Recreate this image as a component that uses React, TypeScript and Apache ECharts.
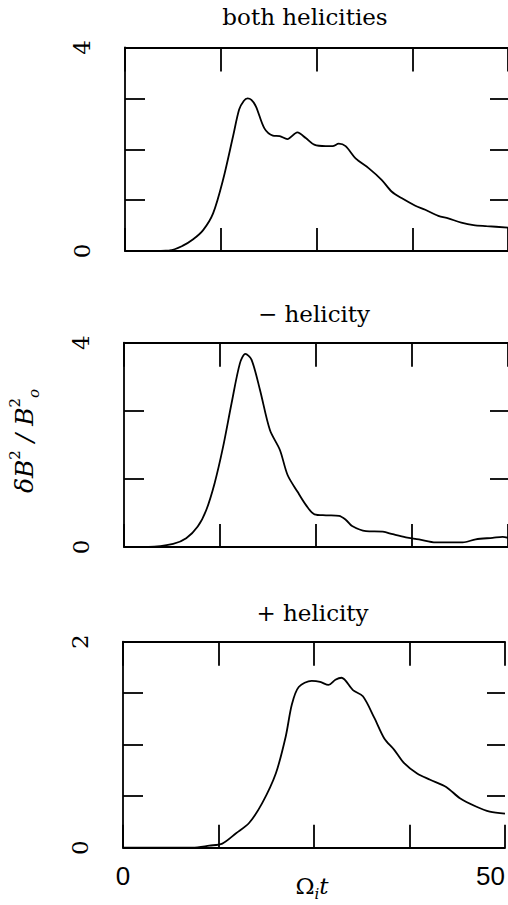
import React, { useEffect, useRef } from "react";
import * as echarts from "echarts";

// ---- data ----
const titles = ["both helicities", "\u2212 helicity", "+ helicity"];

const t1 = [0, 3, 5.8, 7.5, 8.9, 10.2, 11.5, 12.8, 14.1, 14.9, 15.5, 16.0, 16.5, 17.1, 18.2, 19.3, 20.2, 21.2, 22.5, 23.6, 24.7, 26.2, 27.1, 27.9, 28.8, 30.1, 31.8, 33.5, 34.8, 36.1, 37.9, 39.2, 40.9, 42.2, 43.9, 45.5, 47.2, 50];
const v1 = [0, 0, 0.01, 0.1, 0.23, 0.41, 0.74, 1.4, 2.25, 2.78, 2.95, 3.0, 2.97, 2.84, 2.41, 2.27, 2.26, 2.2, 2.33, 2.22, 2.09, 2.06, 2.06, 2.11, 2.06, 1.82, 1.63, 1.4, 1.17, 1.04, 0.89, 0.81, 0.69, 0.64, 0.56, 0.51, 0.49, 0.46];

const t2 = [0, 3.2, 6.4, 8.1, 9.6, 10.7, 11.8, 12.9, 14.0, 15.1, 15.8, 16.6, 17.7, 19.0, 20.3, 21.3, 22.6, 23.7, 24.8, 26.3, 28.0, 28.9, 29.7, 31.5, 33.7, 35.0, 36.7, 38.4, 40.6, 44.1, 45.8, 48.0, 49.3, 50];
const v2 = [0, 0, 0.06, 0.17, 0.4, 0.72, 1.25, 1.96, 2.81, 3.6, 3.78, 3.67, 3.08, 2.29, 1.9, 1.41, 1.08, 0.82, 0.64, 0.62, 0.61, 0.53, 0.41, 0.31, 0.3, 0.25, 0.19, 0.15, 0.09, 0.09, 0.15, 0.18, 0.2, 0.18];

const t3 = [0, 9.1, 11.3, 13.0, 14.8, 16.5, 18.2, 20.0, 21.3, 22.1, 23.0, 24.7, 25.8, 26.9, 27.8, 28.6, 30.1, 31.4, 32.9, 34.2, 35.5, 36.8, 38.5, 40.2, 42.3, 44.1, 46.2, 48.0, 50];
const v3 = [0, 0, 0.02, 0.04, 0.14, 0.24, 0.43, 0.72, 1.08, 1.39, 1.56, 1.62, 1.61, 1.58, 1.63, 1.65, 1.53, 1.47, 1.26, 1.06, 0.95, 0.82, 0.72, 0.66, 0.59, 0.48, 0.4, 0.35, 0.33];

const xMin = 0;
const xMax = 50;
const xInterval = 12.5;
const xTickLabels = ["0", "50"];

const yMaxes = [4, 4, 2];
const yIntervals = [1, 4 / 3, 0.5];
const yTickLabels = [["0", "4"], ["0", "4"], ["0", "2"]];

// ---- layout ----
const grids = [
  { left: 125, top: 47.5, width: 386, height: 203.5 },
  { left: 124, top: 342.7, width: 386, height: 204.3 },
  { left: 123, top: 641.7, width: 386, height: 206 },
];
const titlePos = [
  [305, 17],
  [314, 313.5],
  [312.5, 612.5],
];

const serif = "DejaVu Serif";
const black = "#000";

function labelFor(v: number, labels: string[]) {
  for (const l of labels) {
    if (Math.abs(v - Number(l)) < 1e-6) return l;
  }
  return "";
}

export default function App() {
  const ref = useRef<HTMLDivElement>(null);

  useEffect(() => {
    if (!ref.current) return;
    const chart = echarts.init(ref.current, null, { renderer: "svg" });

    const ts = [t1, t2, t3];
    const vs = [v1, v2, v3];

    const axisLine = { show: true, onZero: false, lineStyle: { color: black, width: 1.8 } };
    const tickStyle = { color: black, width: 1.8 };
    const xAxes: any[] = [];
    const yAxes: any[] = [];
    const series: any[] = [];

    for (let p = 0; p < 3; p++) {
      const isLast = p === 2;
      // bottom x
      xAxes.push({
        type: "value",
        gridIndex: p,
        position: "bottom",
        min: xMin,
        max: xMax,
        interval: xInterval,
        axisLine,
        axisTick: { show: true, inside: true, length: 23, lineStyle: tickStyle },
        splitLine: { show: false },
        axisLabel: isLast
          ? {
              show: true,
              margin: 15,
              color: black,
              fontFamily: "Liberation Sans",
              fontSize: 26,
              alignMaxLabel: "right",
              formatter: (v: number) => labelFor(v, xTickLabels),
            }
          : { show: false },
      });
      // top x
      xAxes.push({
        type: "value",
        gridIndex: p,
        position: "top",
        min: xMin,
        max: xMax,
        interval: xInterval,
        axisLine,
        axisTick: { show: true, inside: true, length: 24, lineStyle: tickStyle },
        splitLine: { show: false },
        axisLabel: { show: false },
      });
      // left y
      yAxes.push({
        type: "value",
        gridIndex: p,
        position: "left",
        min: 0,
        max: yMaxes[p],
        interval: yIntervals[p],
        axisLine,
        axisTick: { show: true, inside: true, length: 20, lineStyle: tickStyle },
        splitLine: { show: false },
        axisLabel: {
          show: true,
          rotate: 90,
          margin: 32,
          color: black,
          fontFamily: serif,
          fontSize: 23,
          formatter: (v: number) => labelFor(v, yTickLabels[p]),
        },
      });
      // right y (border lies just beyond the visible page)
      yAxes.push({
        type: "value",
        gridIndex: p,
        position: "right",
        min: 0,
        max: yMaxes[p],
        interval: yIntervals[p],
        axisLine: { show: false, onZero: false },
        axisTick: { show: true, inside: true, length: 18, lineStyle: tickStyle },
        splitLine: { show: false },
        axisLabel: { show: false },
      });
      series.push({
        type: "line",
        xAxisIndex: p * 2,
        yAxisIndex: p * 2,
        data: ts[p].map((t, i) => [t, vs[p][i]]),
        showSymbol: false,
        smooth: 0.3,
        lineStyle: { color: black, width: 1.8 },
        silent: true,
      });
    }

    const graphic: any[] = titles.map((txt, i) => ({
      type: "text",
      x: titlePos[i][0],
      y: titlePos[i][1],
      style: {
        text: txt,
        fill: black,
        fontFamily: serif,
        fontSize: 23,
        align: "center",
        verticalAlign: "middle",
      },
    }));

    graphic.push({
      type: "text",
      x: 312,
      y: 886,
      style: {
        text: "{a|\u03A9}{b|i}{c|t}",
        align: "center",
        verticalAlign: "middle",
        fill: black,
        rich: {
          a: { fontFamily: serif, fontSize: 23, lineHeight: 30, verticalAlign: "middle", fill: black },
          b: { fontFamily: serif, fontStyle: "italic", fontSize: 15, lineHeight: 30, verticalAlign: "bottom", fill: black },
          c: { fontFamily: serif, fontStyle: "italic", fontSize: 23, lineHeight: 30, verticalAlign: "middle", fill: black },
        },
      },
    });

    graphic.push({
      type: "text",
      x: 24,
      y: 441,
      rotation: Math.PI / 2,
      style: {
        text: "{d|\u03B4B}{sup|2}{d| / B}{sup|2}{sub|o}",
        align: "center",
        verticalAlign: "middle",
        fill: black,
        rich: {
          d: { fontFamily: serif, fontStyle: "italic", fontSize: 25, lineHeight: 34, verticalAlign: "middle", fill: black },
          sup: { fontFamily: serif, fontSize: 15, lineHeight: 34, verticalAlign: "top", fill: black },
          sub: { fontFamily: serif, fontStyle: "italic", fontSize: 15, lineHeight: 34, verticalAlign: "bottom", fill: black },
        },
      },
    });

    chart.setOption({
      animation: false,
      backgroundColor: "#fff",
      grid: grids.map((g) => ({ ...g, containLabel: false })),
      xAxis: xAxes,
      yAxis: yAxes,
      series,
      graphic,
    });

    return () => chart.dispose();
  }, []);

  return (
    <div
      ref={ref}
      style={{ position: "absolute", left: 0, top: 0, width: 508, height: 905 }}
    />
  );
}
